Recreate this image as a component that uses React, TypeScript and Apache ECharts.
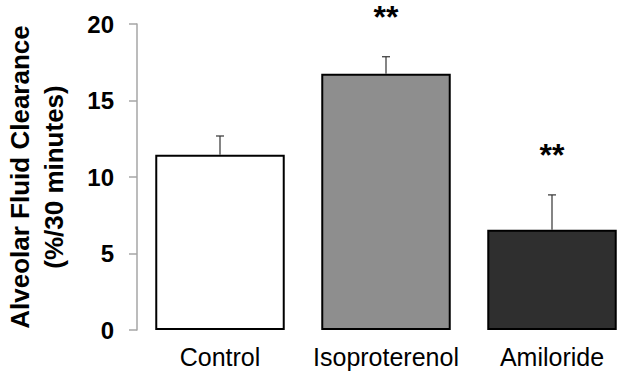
import React, { useEffect, useRef } from "react";
import * as echarts from "echarts";

const categories = ["Control", "Isoproterenol", "Amiloride"];
const means = [11.45, 16.75, 6.55];
const sem = [1.23, 1.11, 2.28];
const significance = ["", "**", "**"];
const barColors = ["#ffffff", "#8e8e8e", "#2f2f2f"];
const yMin = 0;
const yMax = 20;
const yInterval = 5;

const FONT = '"Liberation Sans", Arial, sans-serif';

export default function App() {
  const ref = useRef<HTMLDivElement>(null);
  useEffect(() => {
    if (!ref.current) return;
    const chart = echarts.init(ref.current, undefined, { renderer: "svg" });
    chart.setOption({
      animation: false,
      backgroundColor: "#ffffff",
      textStyle: { fontFamily: FONT },
      grid: {
        left: 137,
        top: 24,
        bottom: 43,
        width: 498,
        containLabel: false,
        outerBoundsMode: "none",
      },
      xAxis: {
        type: "category",
        data: categories,
        axisLine: { show: false },
        axisTick: { show: false },
        axisLabel: {
          color: "#000",
          fontSize: 25,
          fontFamily: FONT,
          margin: 14,
          interval: 0,
        },
      },
      yAxis: {
        type: "value",
        min: yMin,
        max: yMax,
        interval: yInterval,
        name: "Alveolar Fluid Clearance\n(%/30 minutes)",
        nameLocation: "middle",
        nameGap: 66,
        nameTextStyle: {
          color: "#000",
          fontSize: 26,
          fontWeight: "bold",
          fontFamily: FONT,
          lineHeight: 34,
        },
        axisLine: { show: true, lineStyle: { color: "#a6a6a6", width: 1.5 } },
        axisTick: { show: true, length: 8, lineStyle: { color: "#a6a6a6", width: 1.5 } },
        splitLine: { show: false },
        axisLabel: {
          color: "#000",
          fontSize: 24,
          fontWeight: "bold",
          fontFamily: FONT,
          margin: 23,
        },
      },
      series: [
        {
          type: "bar",
          barWidth: "78%",
          data: means.map((v, i) => ({
            value: v,
            itemStyle: { color: barColors[i], borderColor: "#000", borderWidth: 2 },
          })),
        },
        {
          type: "custom",
          clip: false,
          z: 5,
          data: categories.map((_, i) => [i, means[i], means[i] + sem[i]]),
          renderItem: (params: any, api: any) => {
            const idx = params.dataIndex;
            const x = api.value(0);
            const p0 = api.coord([x, api.value(1)]);
            const p1 = api.coord([x, api.value(2)]);
            const children: any[] = [
              {
                type: "line",
                shape: { x1: p0[0], y1: p0[1], x2: p1[0], y2: p1[1] },
                style: { stroke: "#333", lineWidth: 1.2 },
              },
              {
                type: "line",
                shape: { x1: p1[0] - 4, y1: p1[1], x2: p1[0] + 4, y2: p1[1] },
                style: { stroke: "#333", lineWidth: 1.2 },
              },
            ];
            if (significance[idx]) {
              children.push({
                type: "text",
                style: {
                  text: significance[idx],
                  x: p1[0],
                  y: p1[1] - 40,
                  align: "center",
                  verticalAlign: "middle",
                  fontSize: 32,
                  fontWeight: "bold",
                  fontFamily: FONT,
                  fill: "#000",
                },
              });
            }
            return { type: "group", children };
          },
        },
      ],
    });
    return () => chart.dispose();
  }, []);
  return (
    <div
      ref={ref}
      style={{ position: "fixed", left: 0, top: 0, width: 617, height: 373 }}
    />
  );
}
